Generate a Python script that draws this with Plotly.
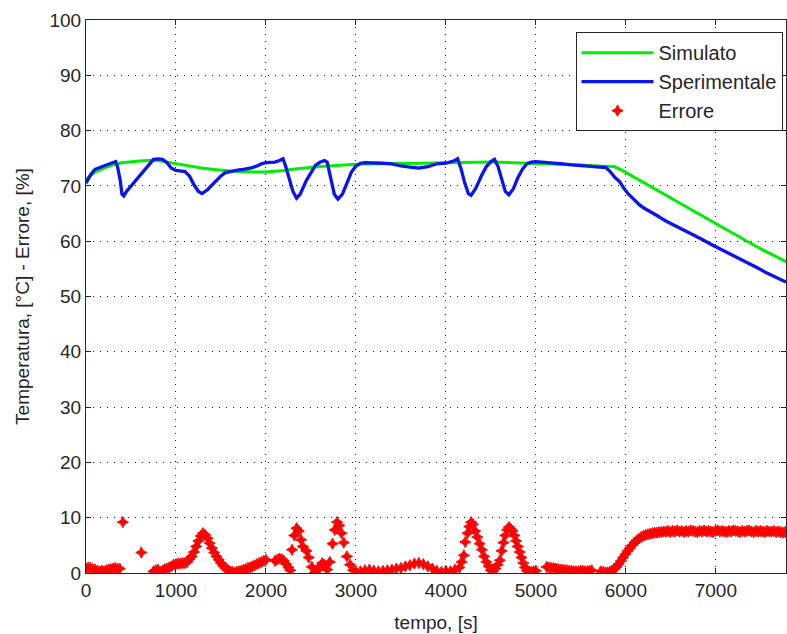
import plotly.graph_objects as go

# ---- Simulato (green) ----
t_sim = [0, 100, 200, 300, 400, 500, 600, 700, 800, 900, 1000, 1100, 1200, 1300, 1400, 1500,
         1600, 1700, 1800, 1900, 2000, 2100, 2200, 2300, 2400, 2500, 2600, 2700, 2800, 2900,
         3000, 3250, 3500, 3750, 4000, 4250, 4500, 4750, 5000, 5250, 5500, 5700, 5870, 5950,
         6050, 6200, 6350, 6500, 6650, 6800, 7000, 7150, 7300, 7500, 7650, 7780]
v_sim = [71.2, 72.5, 73.2, 73.8, 74.2, 74.4, 74.5, 74.6, 74.6, 74.3, 74.0, 73.7, 73.4, 73.2,
         73.0, 72.8, 72.7, 72.6, 72.5, 72.5, 72.5, 72.6, 72.8, 73.0, 73.2, 73.4, 73.5, 73.6,
         73.7, 73.8, 73.9, 74.0, 74.0, 74.1, 74.2, 74.3, 74.3, 74.2, 74.1, 74.0, 73.8, 73.6,
         73.5, 72.9, 72.0, 70.6, 69.2, 67.8, 66.4, 65.0, 63.2, 61.8, 60.4, 58.6, 57.4, 56.3]

# ---- Sperimentale (blue) ----
t_exp = [0, 50, 100, 150, 200, 250, 300, 330, 350, 380, 400, 420, 450, 500, 550, 600, 650, 700,
         750, 800, 850, 900, 950, 1000, 1050, 1100, 1150, 1200, 1250, 1290, 1350, 1400, 1450,
         1500, 1550, 1600, 1650, 1700, 1750, 1800, 1850, 1900, 1950, 2000, 2050, 2100, 2150,
         2190, 2220, 2260, 2300, 2340, 2380, 2450, 2500, 2550, 2600, 2650, 2680, 2720, 2760,
         2800, 2850, 2900, 2950, 3000, 3050, 3100, 3200, 3300, 3400, 3500, 3600, 3700, 3800,
         3900, 4000, 4050, 4100, 4130, 4170, 4210, 4250, 4280, 4330, 4400, 4450, 4500, 4540,
         4580, 4620, 4660, 4700, 4750, 4800, 4850, 4900, 4950, 5000, 5100, 5200, 5300, 5400,
         5500, 5600, 5700, 5780, 5830, 5880, 5930, 5980, 6030, 6100, 6150, 6200, 6260, 6350,
         6450, 6550, 6650, 6750, 6850, 6950, 7050, 7150, 7250, 7350, 7450, 7550, 7650, 7780]
v_exp = [70.5, 72.0, 73.0, 73.3, 73.5, 73.8, 74.2, 74.4, 73.5, 71.0, 68.5, 68.2, 69.0, 70.0,
         71.0, 72.0, 73.0, 74.0, 74.8, 74.9, 74.8, 74.2, 73.2, 72.8, 72.7, 72.6, 71.8, 70.2,
         69.0, 68.6, 69.3, 70.2, 71.0, 71.8, 72.4, 72.6, 72.8, 72.9, 73.0, 73.1, 73.3, 73.6,
         74.0, 74.2, 74.3, 74.3, 74.6, 74.9, 73.5, 71.0, 69.0, 67.8, 68.5, 71.0, 72.5, 73.7,
         74.3, 74.6, 74.3, 71.5, 68.5, 67.6, 68.5, 70.5, 72.5, 73.6, 74.1, 74.2, 74.2, 74.1,
         74.0, 73.6, 73.4, 73.2, 73.5, 74.0, 74.1, 74.3, 74.6, 74.9, 73.0, 70.5, 68.6, 68.3,
         69.5, 72.0, 73.5, 74.4, 74.8, 73.5, 71.0, 69.0, 68.4, 69.5, 71.5, 73.0, 74.0, 74.3,
         74.4, 74.3, 74.2, 74.0, 73.8, 73.7, 73.5, 73.4, 73.3, 72.5, 71.5, 70.8, 69.5, 68.5,
         67.3, 66.6, 66.0, 65.5, 64.6, 63.6, 62.8, 62.0, 61.2, 60.3, 59.4, 58.6, 57.8, 56.9,
         56.1, 55.3, 54.4, 53.6, 52.6]

# ---- Errore (red markers), (time, value) pairs ----
err_start = [(0, 0.8), (25, 1.0), (50, 0.9), (75, 0.7), (100, 0.6), (125, 0.4), (150, 0.3),
             (175, 0.4), (200, 0.3), (225, 0.5), (250, 0.6), (275, 0.7), (300, 0.8),
             (325, 0.9), (350, 0.7), (375, 0.8), (410, 9.2), (615, 3.7)]
err_peak1 = [(750, 0.3), (775, 0.5), (800, 0.6), (825, 0.2), (850, 0.4), (875, 0.7), (900, 0.8),
             (925, 1.0), (950, 1.2), (975, 1.5), (1000, 1.6), (1025, 1.7), (1050, 1.7),
             (1075, 1.8), (1100, 1.8), (1125, 2.0), (1150, 2.5), (1175, 3.0), (1200, 3.8),
             (1225, 4.8), (1250, 5.8), (1275, 6.7), (1300, 7.2), (1325, 6.9), (1350, 6.3),
             (1375, 5.4), (1400, 4.5), (1425, 3.7), (1450, 3.0), (1475, 2.4), (1500, 1.8),
             (1525, 1.3), (1550, 0.9), (1575, 0.6), (1600, 0.3), (1625, 0.2), (1650, 0.1),
             (1675, 0.2), (1700, 0.3), (1725, 0.4), (1750, 0.6), (1775, 0.7), (1800, 0.9),
             (1825, 1.0), (1850, 1.2), (1875, 1.4), (1900, 1.6), (1925, 1.8), (1950, 2.0),
             (1975, 2.2), (2000, 2.4)]
err_peak23 = [(2100, 2.2), (2125, 2.4), (2150, 2.6), (2175, 2.5), (2200, 2.2), (2225, 1.6),
              (2250, 1.0), (2270, 0.5), (2290, 4.2), (2315, 6.8), (2340, 8.1), (2365, 7.6),
              (2390, 6.0), (2410, 4.8), (2450, 4.0), (2475, 2.8), (2510, 1.1), (2545, 0.1),
              (2575, 0.6), (2600, 1.2), (2625, 1.8), (2650, 1.5), (2680, 0.6), (2710, 2.0),
              (2740, 5.3), (2765, 7.8), (2790, 9.2), (2815, 8.6), (2840, 7.2), (2865, 5.5),
              (2900, 3.0), (2935, 1.5), (2970, 0.5), (3000, 0.3)]
err_peak45 = [(3050, 0.3), (3100, 0.5), (3150, 0.6), (3200, 0.4), (3250, 0.3), (3300, 0.4),
              (3350, 0.5), (3400, 0.6), (3450, 0.8), (3500, 0.9), (3550, 1.2), (3600, 1.4),
              (3650, 1.7), (3700, 1.8), (3750, 1.6), (3800, 1.2), (3850, 0.8), (3900, 0.4),
              (3950, 0.2), (4000, 0.4), (4050, 0.3), (4100, 0.6), (4150, 1.0), (4175, 2.0),
              (4200, 3.2), (4215, 5.6), (4240, 7.2), (4260, 8.4), (4280, 9.2), (4300, 8.8),
              (4325, 7.6), (4350, 6.5), (4375, 5.3), (4400, 4.2), (4425, 3.0), (4450, 2.0),
              (4475, 1.2), (4500, 0.5), (4525, 0.3), (4550, 0.8), (4575, 1.5), (4600, 2.3),
              (4620, 4.0), (4640, 5.5), (4660, 6.8), (4680, 7.8), (4700, 8.3), (4720, 8.0),
              (4740, 7.6), (4760, 6.8), (4780, 5.8), (4800, 4.8), (4820, 3.8), (4840, 2.8),
              (4860, 1.8), (4880, 1.0), (4900, 0.4), (4925, 0.2), (4950, 0.2), (4975, 0.3),
              (5000, 0.4)]
err_flat = [(5120, 1.1), (5145, 1.0), (5170, 0.9), (5195, 0.9), (5220, 0.8), (5245, 0.7),
            (5270, 0.6), (5295, 0.6), (5320, 0.5), (5345, 0.5), (5370, 0.4), (5395, 0.4),
            (5420, 0.3), (5445, 0.3), (5470, 0.3), (5495, 0.4), (5520, 0.4), (5545, 0.3),
            (5570, 0.3), (5595, 0.4), (5620, 0.5)]
err_end = [(5720, 0.3), (5745, 0.2), (5770, 0.1), (5795, 0.1), (5820, 0.2), (5845, 0.4),
           (5870, 0.7), (5895, 1.1), (5920, 1.6), (5945, 2.2), (5970, 2.8), (5995, 3.4),
           (6020, 4.0), (6045, 4.5), (6070, 5.0), (6095, 5.5), (6120, 5.9), (6145, 6.2),
           (6170, 6.5), (6195, 6.7), (6220, 6.9), (6245, 7.0), (6270, 7.1), (6295, 7.2),
           (6320, 7.3), (6345, 7.3), (6370, 7.4), (6395, 7.4), (6420, 7.5), (6445, 7.5),
           (6470, 7.6), (6495, 7.4), (6520, 7.6), (6545, 7.5), (6570, 7.7), (6595, 7.5),
           (6620, 7.6), (6645, 7.4), (6670, 7.6), (6695, 7.5), (6720, 7.7), (6745, 7.6),
           (6770, 7.5), (6795, 7.4), (6820, 7.6), (6845, 7.5), (6870, 7.7), (6895, 7.5),
           (6920, 7.6), (6945, 7.5), (6970, 7.4), (6995, 7.6), (7020, 7.7), (7045, 7.5),
           (7070, 7.6), (7095, 7.5), (7120, 7.4), (7145, 7.6), (7170, 7.5), (7195, 7.7),
           (7220, 7.6), (7245, 7.5), (7270, 7.4), (7295, 7.6), (7320, 7.5), (7345, 7.6),
           (7370, 7.7), (7395, 7.5), (7420, 7.4), (7445, 7.6), (7470, 7.5), (7495, 7.6),
           (7520, 7.5), (7545, 7.4), (7570, 7.6), (7595, 7.5), (7620, 7.5), (7645, 7.6),
           (7670, 7.4), (7695, 7.5), (7720, 7.4), (7745, 7.3), (7770, 7.4)]

err_points = err_start + err_peak1 + err_peak23 + err_peak45 + err_flat + err_end
t_err = [p[0] for p in err_points]
v_err = [p[1] for p in err_points]

x_ticks = [0, 1000, 2000, 3000, 4000, 5000, 6000, 7000]
y_ticks = [0, 10, 20, 30, 40, 50, 60, 70, 80, 90, 100]

fig = go.Figure()
fig.add_trace(go.Scatter(x=t_sim, y=v_sim, mode="lines", name="Simulato",
                         legendgroup="a", line=dict(color="#00ee00", width=3)))
fig.add_trace(go.Scatter(x=t_exp, y=v_exp, mode="lines", name="Sperimentale",
                         legendgroup="b", line=dict(color="#0a14f0", width=3.3)))
fig.add_trace(go.Scatter(x=t_err, y=v_err, mode="markers", name="Errore",
                         legendgroup="c",
                         marker=dict(color="#ff0000", symbol="star-diamond", size=8,
                                     line=dict(width=1, color="#ff0000"))))

axis_common = dict(
    showline=True, linecolor="#262626", linewidth=1, mirror="ticks",
    ticks="inside", ticklen=5, tickcolor="#262626",
    showgrid=True, gridcolor="#262626", gridwidth=1, griddash="1px,6px",
    zeroline=False, tickfont=dict(size=19, color="#262626"), automargin=False,
)

fig.update_xaxes(range=[0, 7780], tickvals=x_ticks,
                 title=dict(text="tempo, [s]", font=dict(size=19, color="#262626"), standoff=15),
                 **axis_common)
fig.update_yaxes(range=[0, 100], tickvals=y_ticks,
                 title=dict(text="Temperatura, [°C] - Errore, [%]", font=dict(size=19, color="#262626"), standoff=14),
                 **axis_common)

fig.update_layout(
    width=787, height=634,
    margin=dict(l=86, r=1, t=20, b=61),
    paper_bgcolor="white", plot_bgcolor="white",
    font=dict(family="Liberation Sans, Arial, sans-serif", size=19, color="#262626"),
    showlegend=True,
    legend=dict(x=0.995, xanchor="right", y=0.978, yanchor="top",
                bgcolor="white", bordercolor="#262626", borderwidth=1,
                font=dict(size=20, color="#262626"), tracegroupgap=0,
                itemwidth=72),
)

fig.write_html("out.html")
